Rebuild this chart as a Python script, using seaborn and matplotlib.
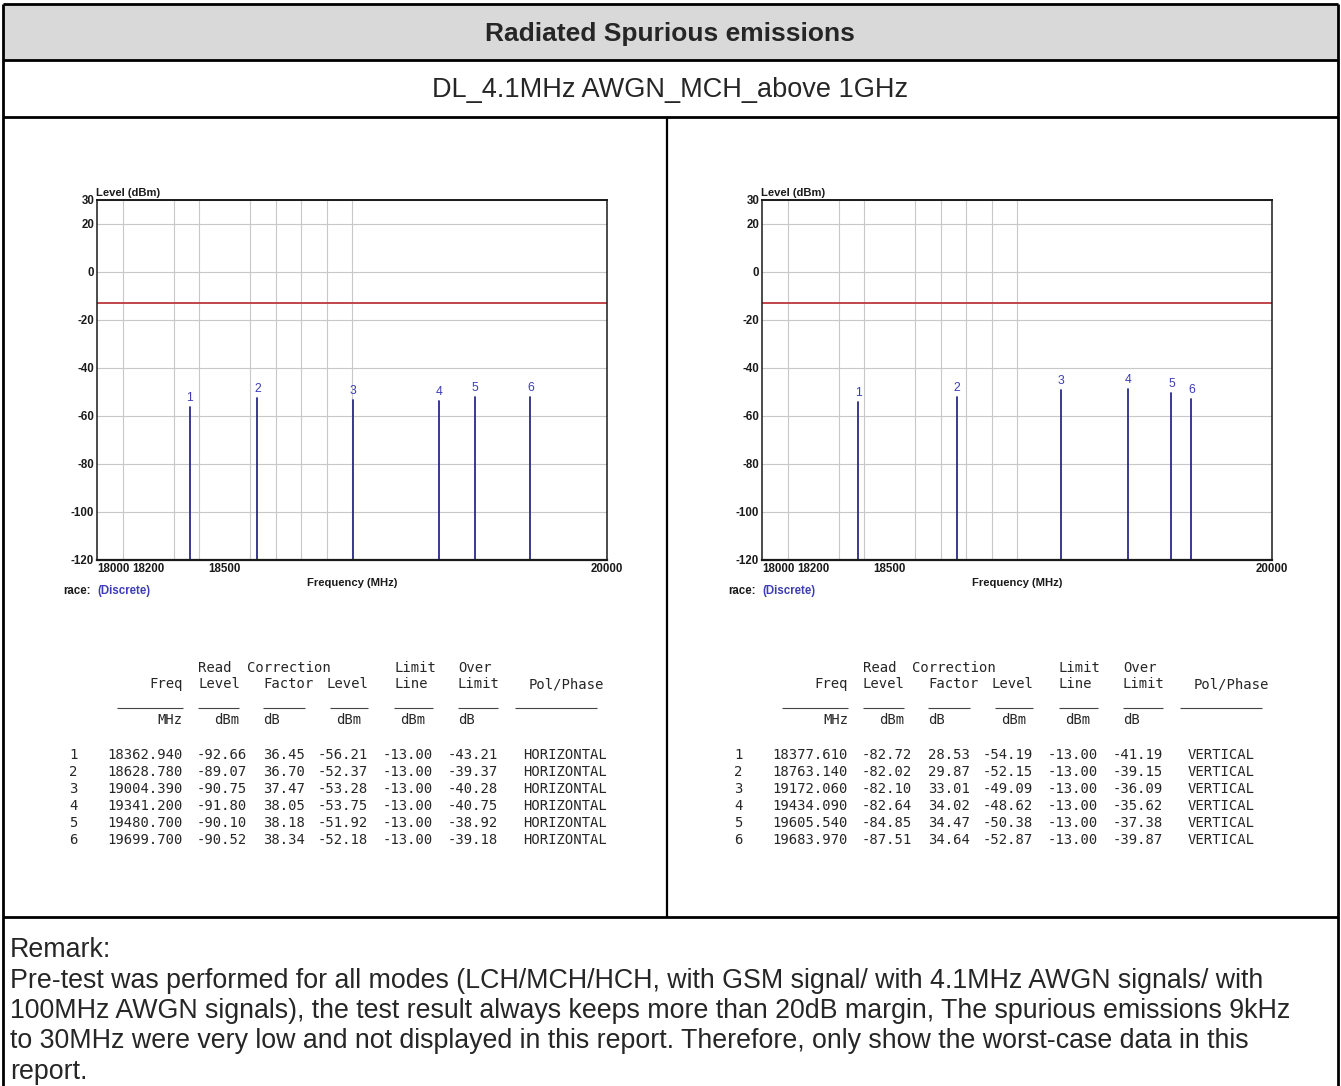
import numpy as np
import pandas as pd
import matplotlib
matplotlib.use("Agg")
import matplotlib.pyplot as plt
from matplotlib import font_manager
from matplotlib.lines import Line2D
from matplotlib.patches import Rectangle
import seaborn as sns

# ---- values ----
marker = [1, 2, 3, 4, 5, 6]

h_freq = [18362.940, 18628.780, 19004.390, 19341.200, 19480.700, 19699.700]
h_read = [-92.66, -89.07, -90.75, -91.80, -90.10, -90.52]
h_corr = [36.45, 36.70, 37.47, 38.05, 38.18, 38.34]
h_level = [-56.21, -52.37, -53.28, -53.75, -51.92, -52.18]
h_over = [-43.21, -39.37, -40.28, -40.75, -38.92, -39.18]

v_freq = [18377.610, 18763.140, 19172.060, 19434.090, 19605.540, 19683.970]
v_read = [-82.72, -82.02, -82.10, -82.64, -84.85, -87.51]
v_corr = [28.53, 29.87, 33.01, 34.02, 34.47, 34.64]
v_level = [-54.19, -52.15, -49.09, -48.62, -50.38, -52.87]
v_over = [-41.19, -39.15, -36.09, -35.62, -37.38, -39.87]

limit_line = -13.00

y_ticks = [30, 20, 0, -20, -40, -60, -80, -100, -120]
x_ticks = [18000, 18200, 18500, 20000]
x_grid = [18100, 18200, 18300, 18400, 18500, 18600, 18700, 18800, 18900, 19000]

title = "Radiated Spurious emissions"
subtitle = "DL_4.1MHz AWGN_MCH_above 1GHz"
remark = [
    "Remark:",
    "Pre-test was performed for all modes (LCH/MCH/HCH, with GSM signal/ with 4.1MHz AWGN signals/ with",
    "100MHz AWGN signals), the test result always keeps more than 20dB margin, The spurious emissions 9kHz",
    "to 30MHz were very low and not displayed in this report. Therefore, only show the worst-case data in this",
    "report.",
]

# ---- look ----
W, H = 1341, 1086
SANS = ["Liberation Sans", "DejaVu Sans"]
have = {f.name for f in font_manager.fontManager.ttflist}
if "Liberation Sans Narrow" in have:
    NARROW, NS = ["Liberation Sans Narrow", "DejaVu Sans"], 1.0
else:
    NARROW, NS = SANS, 0.83
MONO = ["DejaVu Sans Mono"]
STEM = "#2a2a8a"
BLUE = "#3c3cb4"
RED = "#c0454a"
GRID = "#c8c8c8"
TXT = "#262626"
DARK = "#1a1a1a"

sns.set_style("white")
plt.rcParams["font.family"] = SANS

fig = plt.figure(figsize=(W / 100, H / 100), dpi=100)


def fx(x):
    return x / W


def fy(y):
    return 1 - y / H


def px_line(x0, y0, x1, y1, lw=1.6, color="black"):
    fig.add_artist(Line2D([fx(x0), fx(x1)], [fy(y0), fy(y1)], color=color, lw=lw,
                          transform=fig.transFigure, solid_capstyle="butt"))


def px_text(x, y, s, **kw):
    fig.text(fx(x), fy(y), s, **kw)


# ---- report frame ----
fig.add_artist(Rectangle((fx(3), fy(60)), fx(1338) - fx(3), fy(4) - fy(60),
                         transform=fig.transFigure, facecolor="#d9d9d9", edgecolor="none"))
px_line(3, 4, 1338, 4, lw=2)
px_line(3, 4, 3, 1086, lw=2)
px_line(1338, 4, 1338, 1086, lw=2)
px_line(3, 60, 1338, 60, lw=2)
px_line(3, 117, 1338, 117, lw=2)
px_line(3, 917, 1338, 917, lw=2)
px_line(667, 117, 667, 917, lw=1.6)

px_text(670, 34, title, ha="center", va="center", fontsize=19, fontweight="bold")
px_text(670, 90, subtitle, ha="center", va="center", fontsize=19.5)
for i, line in enumerate(remark):
    px_text(10, 950 + 30.5 * i, line, ha="left", va="center", fontsize=19.3)


def spectrum(dx, freq, level):
    left, top, right, bottom = 97 + dx, 200, 607 + dx, 560
    ax = fig.add_axes([fx(left), fy(bottom), fx(right) - fx(left), fy(top) - fy(bottom)])
    df = pd.DataFrame({
        "marker": np.repeat(marker, 2),
        "freq": np.repeat(freq, 2),
        "level": np.column_stack([np.full(len(level), y_ticks[-1]), level]).ravel(),
    })
    ax.set_axisbelow(True)
    sns.lineplot(data=df, x="freq", y="level", units="marker", estimator=None,
                 sort=False, color=STEM, lw=1.3, ax=ax, legend=False)
    ax.axhline(limit_line, color=RED, lw=1.4)
    for m, f, lv in zip(marker, freq, level):
        ax.text(f, lv + 1.2, str(m), ha="center", va="bottom", color=BLUE,
                fontsize=10.5 * NS, family=NARROW)

    ax.set_xlim(18000, 20000)
    ax.set_ylim(-120, 30)
    tick_kw = dict(family=NARROW, fontweight="bold", fontsize=10 * NS, color=DARK)
    ax.set_yticks(y_ticks)
    ax.set_yticklabels([str(t) for t in y_ticks], **tick_kw)
    ax.set_xticks(x_ticks)
    xl = ax.set_xticklabels([str(t) for t in x_ticks], **tick_kw)
    xl[0].set_ha("left")
    ax.set_xticks(x_grid, minor=True)
    ax.grid(axis="y", which="major", color=GRID, lw=0.8)
    ax.grid(axis="x", which="minor", color=GRID, lw=0.8)
    ax.grid(axis="x", which="major", visible=False)
    ax.tick_params(which="both", length=0, pad=2)
    ax.set_xlabel("")
    ax.set_ylabel("")
    for side, lw in [("top", 1.4), ("left", 1.1), ("right", 1.1), ("bottom", 1.6)]:
        ax.spines[side].set_visible(True)
        ax.spines[side].set_color(DARK)
        ax.spines[side].set_linewidth(lw)

    px_text(left - 1, top - 2, "Level (dBm)", ha="left", va="bottom", family=NARROW,
            fontweight="bold", fontsize=9.8 * NS, color=DARK)
    px_text((left + right) / 2, 583, "Frequency (MHz)", ha="center", va="center",
            family=NARROW, fontweight="bold", fontsize=9.8 * NS, color=DARK)
    px_text(left - 34, 591, "race:", ha="left", va="center", family=NARROW,
            fontweight="bold", fontsize=10 * NS, color=DARK)
    px_text(left, 591, "(Discrete)", ha="left", va="center", family=NARROW,
            fontweight="bold", fontsize=10 * NS, color=BLUE)


def table(dx, freq, read, corr, level, over, pol):
    mono = dict(family=MONO, fontsize=10, color=TXT, va="center")
    heads = [
        ("Read", 198, 668, "left"), ("Correction", 247, 668, "left"),
        ("Limit", 394, 668, "left"), ("Over", 458, 668, "left"),
        ("Freq", 183, 684, "right"), ("Level", 198, 684, "left"),
        ("Factor", 263, 684, "left"), ("Level", 368, 684, "right"),
        ("Line", 394, 684, "left"), ("Limit", 458, 684, "left"),
        ("Pol/Phase", 529, 684, "left"),
        ("MHz", 183, 720, "right"), ("dBm", 239, 720, "right"),
        ("dB", 263, 720, "left"), ("dBm", 349, 720, "center"),
        ("dBm", 413, 720, "center"), ("dB", 458, 720, "left"),
    ]
    for s, x, y, ha in heads:
        px_text(dx + x, y, s, ha=ha, **mono)
    for x0, x1 in [(117, 183), (198, 239), (263, 305), (330, 368),
                   (394, 433), (458, 498), (515, 597)]:
        px_line(dx + x0, 708, dx + x1, 708, lw=0.8, color="#444444")
    for i in range(len(marker)):
        y = 755 + 17 * i
        px_text(dx + 69, y, str(marker[i]), ha="left", **mono)
        px_text(dx + 183, y, f"{freq[i]:.3f}", ha="right", **mono)
        px_text(dx + 247, y, f"{read[i]:.2f}", ha="right", **mono)
        px_text(dx + 305, y, f"{corr[i]:.2f}", ha="right", **mono)
        px_text(dx + 368, y, f"{level[i]:.2f}", ha="right", **mono)
        px_text(dx + 433, y, f"{limit_line:.2f}", ha="right", **mono)
        px_text(dx + 498, y, f"{over[i]:.2f}", ha="right", **mono)
        px_text(dx + 523, y, pol, ha="left", **mono)


spectrum(0, h_freq, h_level)
spectrum(665, v_freq, v_level)
table(0, h_freq, h_read, h_corr, h_level, h_over, "HORIZONTAL")
table(665, v_freq, v_read, v_corr, v_level, v_over, "VERTICAL")

fig.savefig("out.png", dpi=100)
